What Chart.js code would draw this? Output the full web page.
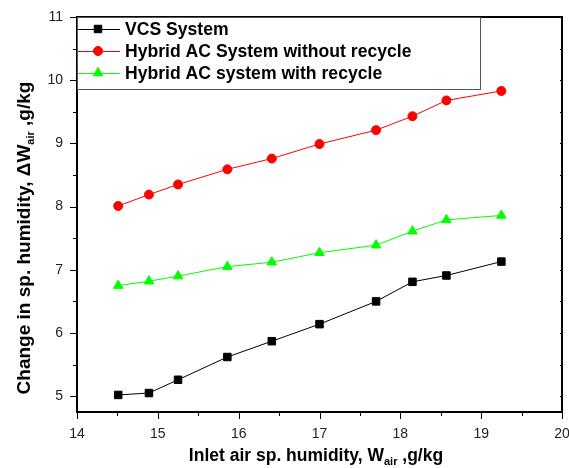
<!DOCTYPE html>
<html lang="en">
<head>
  <meta charset="UTF-8" />
  <title>Change in specific humidity</title>
  <script src="https://cdn.jsdelivr.net/npm/chart.js"></script>
</head>
<body style="margin: 0; padding: 0; background: #fff;">
  <div style="width: 569px; height: 468px;">
    <canvas id="chart" width="569" height="468"></canvas>
  </div>

  <script>
    const inletHumidity = [14.51, 14.89, 15.25, 15.86, 16.41, 17.00, 17.70, 18.15, 18.57, 19.25];
    const vcsSystem = [5.02, 5.05, 5.26, 5.62, 5.87, 6.14, 6.50, 6.81, 6.91, 7.13];
    const hybridNoRecycle = [8.01, 8.19, 8.35, 8.59, 8.76, 8.99, 9.21, 9.43, 9.68, 9.83];
    const hybridRecycle = [6.75, 6.82, 6.90, 7.05, 7.12, 7.27, 7.39, 7.61, 7.79, 7.86];
    const seriesNames = ['VCS System', 'Hybrid AC System without recycle', 'Hybrid AC system with recycle'];
    const xTicks = [14, 15, 16, 17, 18, 19, 20];
    const yTicks = [5, 6, 7, 8, 9, 10, 11];

    const toPoints = ys => ys.map((y, i) => ({ x: inletHumidity[i], y: y }));

    // frame, minor ticks, subscripted titles and the boxed legend
    const decorations = {
      id: 'decorations',
      afterDraw(chart) {
        const ctx = chart.ctx;
        const a = chart.chartArea;
        const xs = chart.scales.x, ys = chart.scales.y;
        ctx.save();

        ctx.strokeStyle = '#000';
        ctx.lineWidth = 2;
        ctx.strokeRect(a.left, a.top, a.right - a.left, a.bottom - a.top);

        ctx.lineWidth = 1;
        ctx.beginPath();
        for (let v = 14; v <= 20.001; v += 0.5) {
          const px = Math.round(xs.getPixelForValue(v)) + 0.5;
          const major = Math.abs(v - Math.round(v)) < 0.01;
          ctx.moveTo(px, a.bottom); ctx.lineTo(px, a.bottom + (major ? 7 : 4));
        }
        for (let v = 5; v <= 11.001; v += 0.5) {
          const py = Math.round(ys.getPixelForValue(v)) + 0.5;
          const major = Math.abs(v - Math.round(v)) < 0.01;
          ctx.moveTo(a.left, py); ctx.lineTo(a.left - (major ? 7 : 4), py);
          ctx.moveTo(a.right, py); ctx.lineTo(a.right - 2, py);
        }
        ctx.stroke();

        // axis titles
        ctx.fillStyle = '#000';
        ctx.textBaseline = 'alphabetic';
        const drawTitle = (parts, cx, cy, rot, size) => {
          const subSize = Math.round(size * 0.6);
          ctx.save();
          ctx.translate(cx, cy);
          ctx.rotate(rot);
          let total = 0;
          parts.forEach(p => { ctx.font = 'bold ' + (p.sub ? subSize : size) + 'px Arial'; total += ctx.measureText(p.t).width; });
          let x = -total / 2;
          parts.forEach(p => {
            ctx.font = 'bold ' + (p.sub ? subSize : size) + 'px Arial';
            ctx.fillText(p.t, x, p.sub ? 4 : 0);
            x += ctx.measureText(p.t).width;
          });
          ctx.restore();
        };
        drawTitle([{ t: 'Inlet air sp. humidity, W' }, { t: 'air', sub: true }, { t: ' ,g/kg' }], 316, 461, 0, 17.5);
        drawTitle([{ t: 'Change in sp. humidity, \u0394W' }, { t: 'air', sub: true }, { t: ' ,g/kg' }], 30, 238, -Math.PI / 2, 19);

        // legend
        const lx = a.left, ly = a.top, lw = 403, lh = 72;
        ctx.strokeStyle = '#555';
        ctx.lineWidth = 1;
        ctx.strokeRect(lx + 0.5, ly + 0.5, lw, lh);
        chart.data.datasets.forEach((ds, i) => {
          const cy = 29 + i * 22;
          ctx.strokeStyle = ds.borderColor;
          ctx.lineWidth = 1;
          ctx.beginPath();
          ctx.moveTo(lx + 1, cy + 0.5); ctx.lineTo(lx + 43, cy + 0.5);
          ctx.stroke();
          ctx.fillStyle = ds.pointBackgroundColor;
          ctx.strokeStyle = ds.pointBorderColor;
          Chart.helpers.drawPoint(ctx, { pointStyle: ds.pointStyle, radius: ds.pointRadius, borderWidth: 1, rotation: 0 }, lx + 21, cy);
          ctx.fillStyle = '#000';
          ctx.font = 'bold 17.6px Arial';
          ctx.textBaseline = 'middle';
          ctx.fillText(ds.label, lx + 48, cy + 1);
        });
        ctx.restore();
      }
    };

    const ctx = document.getElementById('chart').getContext('2d');
    new Chart(ctx, {
      type: 'scatter',
      data: {
        datasets: [
          {
            label: seriesNames[0], data: toPoints(vcsSystem), showLine: true,
            borderColor: '#000', borderWidth: 1,
            pointStyle: 'rect', pointRadius: 5.3,
            pointBackgroundColor: '#000', pointBorderColor: '#000', pointBorderWidth: 1
          },
          {
            label: seriesNames[1], data: toPoints(hybridNoRecycle), showLine: true,
            borderColor: '#ff0000', borderWidth: 1,
            pointStyle: 'circle', pointRadius: 4.5,
            pointBackgroundColor: '#ff0000', pointBorderColor: '#ff0000', pointBorderWidth: 1
          },
          {
            label: seriesNames[2], data: toPoints(hybridRecycle), showLine: true,
            borderColor: '#00ff00', borderWidth: 1,
            pointStyle: 'triangle', pointRadius: 5.5,
            pointBackgroundColor: '#00ff00', pointBorderColor: '#00ff00', pointBorderWidth: 1
          }
        ]
      },
      options: {
        responsive: false,
        animation: false,
        layout: { padding: { left: 0, right: 7, top: 17, bottom: 0 } },
        plugins: {
          legend: { display: false },
          tooltip: { enabled: false }
        },
        scales: {
          x: {
            type: 'linear', min: 14, max: 20,
            afterBuildTicks: s => { s.ticks = xTicks.map(v => ({ value: v })); },
            afterFit: s => { s.height = 56; s.paddingLeft = 0; s.paddingRight = 0; },
            grid: { display: false },
            border: { display: false },
            ticks: { padding: 6, color: '#222', font: { family: 'Arial', size: 14 } }
          },
          y: {
            type: 'linear', min: 4.75, max: 11,
            afterBuildTicks: s => { s.ticks = yTicks.map(v => ({ value: v })); },
            afterFit: s => { s.width = 77; },
            grid: { display: false },
            border: { display: false },
            ticks: { padding: 6, color: '#222', font: { family: 'Arial', size: 14 } }
          }
        }
      },
      plugins: [decorations]
    });
  </script>
</body>
</html>
